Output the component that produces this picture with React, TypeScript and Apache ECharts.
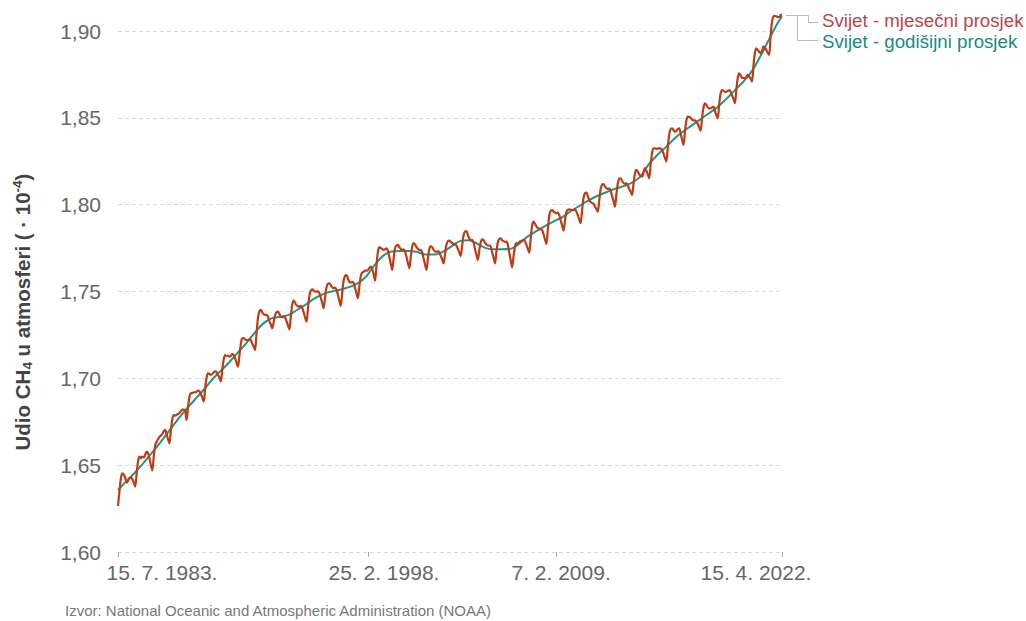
import React, { useEffect, useRef } from "react";
import * as echarts from "echarts";

// Monthly global mean CH4 (ppb), one value per month starting July 1983 (15th of each month)
const FIRST_YEAR = 1983;
const FIRST_MONTH = 7;
const monthlyPpb: number[] = [
  // 1983 (Jul–Dec)
  1626.5, 1635.0, 1642.5, 1645.3, 1644.5, 1642.9,
  // 1984
  1640.0, 1641.0, 1642.5, 1643.0, 1642.0, 1640.0, 1637.6, 1645.0, 1652.3, 1654.9, 1654.0, 1655.0,
  // 1985
  1654.5, 1656.0, 1657.8, 1657.0, 1654.0, 1650.0, 1647.0, 1655.0, 1661.5, 1663.5, 1665.0, 1666.4,
  // 1986
  1667.0, 1668.0, 1669.5, 1670.3, 1668.0, 1665.0, 1662.6, 1670.0, 1676.5, 1678.9, 1678.5, 1679.0,
  // 1987
  1679.5, 1680.0, 1681.0, 1682.0, 1682.0, 1681.5, 1676.0, 1683.0, 1689.5, 1691.4, 1691.5, 1692.0,
  // 1988
  1692.0, 1692.3, 1693.0, 1692.5, 1691.0, 1689.0, 1686.6, 1694.0, 1700.5, 1702.9, 1702.5, 1702.0,
  // 1989
  1702.5, 1703.5, 1704.0, 1703.5, 1702.0, 1700.5, 1698.1, 1705.0, 1711.0, 1713.4, 1713.0, 1713.0,
  // 1990
  1712.5, 1713.0, 1714.0, 1713.5, 1711.5, 1709.0, 1706.7, 1713.0, 1720.0, 1723.0, 1723.1, 1722.5,
  // 1991
  1722.0, 1722.1, 1722.5, 1722.0, 1720.0, 1718.5, 1716.3, 1726.0, 1735.0, 1738.5, 1739.4, 1738.0,
  // 1992
  1737.0, 1736.5, 1736.5, 1735.5, 1733.0, 1731.0, 1728.8, 1732.5, 1736.5, 1738.0, 1738.4, 1737.0,
  // 1993
  1735.5, 1735.2, 1735.5, 1735.0, 1733.0, 1730.5, 1728.2, 1735.5, 1742.5, 1744.7, 1743.5, 1742.0,
  // 1994
  1741.5, 1741.2, 1741.8, 1740.5, 1738.0, 1735.0, 1732.6, 1740.0, 1747.5, 1750.5, 1751.3, 1750.5,
  // 1995
  1750.0, 1749.9, 1750.3, 1749.0, 1746.5, 1743.5, 1740.3, 1746.5, 1752.5, 1754.5, 1754.7, 1753.5,
  // 1996
  1752.5, 1751.8, 1752.3, 1751.0, 1748.0, 1744.5, 1741.7, 1749.5, 1756.5, 1759.0, 1759.5, 1757.5,
  // 1997
  1755.5, 1755.1, 1755.6, 1755.0, 1752.0, 1749.0, 1746.1, 1753.0, 1759.0, 1761.0, 1761.4, 1762.0,
  // 1998
  1762.0, 1762.4, 1763.5, 1764.3, 1763.0, 1760.0, 1756.2, 1765.0, 1773.0, 1775.5, 1775.0, 1774.5,
  // 1999
  1774.0, 1774.3, 1774.8, 1773.5, 1770.0, 1766.0, 1762.4, 1769.0, 1775.0, 1776.5, 1776.8, 1775.5,
  // 2000
  1774.5, 1773.9, 1774.2, 1773.0, 1770.0, 1766.5, 1763.4, 1770.0, 1776.0, 1777.8, 1777.0, 1775.5,
  // 2001
  1774.5, 1773.9, 1774.0, 1772.5, 1769.0, 1765.5, 1762.4, 1769.0, 1774.5, 1776.2, 1775.5, 1774.0,
  // 2002
  1773.0, 1772.9, 1773.2, 1772.5, 1770.5, 1768.5, 1766.2, 1771.5, 1777.0, 1779.0, 1779.3, 1778.5,
  // 2003
  1778.0, 1777.0, 1777.5, 1776.5, 1774.5, 1772.5, 1770.4, 1776.5, 1782.5, 1784.5, 1784.8, 1782.5,
  // 2004
  1780.5, 1779.5, 1779.7, 1778.0, 1774.5, 1771.0, 1768.1, 1774.0, 1778.5, 1780.1, 1779.5, 1778.0,
  // 2005
  1777.0, 1776.5, 1776.5, 1775.8, 1772.5, 1769.5, 1766.2, 1773.0, 1778.5, 1780.3, 1780.6, 1779.5,
  // 2006
  1779.0, 1778.5, 1778.7, 1777.0, 1772.5, 1768.0, 1763.9, 1770.5, 1776.0, 1777.8, 1777.5, 1778.5,
  // 2007
  1779.0, 1779.3, 1779.7, 1779.0, 1777.0, 1774.5, 1772.4, 1780.5, 1788.0, 1790.2, 1789.0, 1787.5,
  // 2008
  1786.5, 1786.0, 1785.8, 1785.4, 1783.0, 1780.0, 1777.4, 1786.0, 1794.0, 1796.5, 1796.9, 1796.0,
  // 2009
  1795.5, 1795.0, 1795.4, 1794.0, 1791.0, 1788.0, 1785.0, 1791.0, 1796.0, 1797.0, 1797.3, 1797.0,
  // 2010
  1797.0, 1796.9, 1797.5, 1796.0, 1794.0, 1791.5, 1789.3, 1797.0, 1804.0, 1806.5, 1806.9, 1805.0,
  // 2011
  1802.5, 1801.5, 1801.0, 1800.5, 1799.0, 1797.5, 1796.0, 1802.5, 1809.0, 1811.5, 1811.9, 1810.5,
  // 2012
  1809.5, 1809.0, 1809.4, 1808.0, 1805.0, 1802.0, 1798.8, 1806.0, 1812.5, 1815.0, 1815.2, 1813.5,
  // 2013
  1812.5, 1812.0, 1812.3, 1811.0, 1809.0, 1807.5, 1805.6, 1812.0, 1818.0, 1820.0, 1819.0, 1817.5,
  // 2014
  1816.5, 1816.1, 1818.5, 1821.0, 1819.5, 1817.5, 1815.2, 1823.0, 1830.0, 1832.5, 1832.5, 1832.0,
  // 2015
  1832.5, 1832.3, 1832.5, 1831.5, 1829.5, 1827.0, 1824.8, 1833.0, 1840.5, 1843.5, 1844.0, 1843.0,
  // 2016
  1842.0, 1842.5, 1843.5, 1844.0, 1841.0, 1837.5, 1834.4, 1842.0, 1848.5, 1850.7, 1850.5, 1850.0,
  // 2017
  1849.0, 1848.5, 1848.5, 1847.8, 1846.5, 1844.5, 1842.5, 1850.0, 1856.0, 1858.4, 1857.5, 1856.0,
  // 2018
  1855.5, 1855.5, 1856.0, 1856.4, 1854.0, 1851.5, 1849.7, 1858.0, 1864.0, 1866.0, 1865.5, 1865.0,
  // 2019
  1865.0, 1865.5, 1866.0, 1865.0, 1863.0, 1861.0, 1858.4, 1866.0, 1873.0, 1875.6, 1874.5, 1873.0,
  // 2020
  1873.0, 1872.7, 1873.5, 1874.7, 1874.0, 1872.5, 1870.9, 1880.0, 1887.5, 1890.0, 1889.0, 1888.0,
  // 2021
  1887.1, 1888.5, 1891.0, 1890.5, 1889.0, 1887.5, 1886.2, 1897.0, 1905.5, 1908.3, 1908.7, 1908.5,
  // 2022 (Jan–Apr)
  1908.0, 1908.0, 1909.2, 1909.5,
];

// Smoothed trend (ppb) at half-year points
const trendDates: string[] = [
  "1983-07-15",
  "1984-01-01", "1984-07-01", "1985-01-01", "1985-07-01", "1986-01-01", "1986-07-01",
  "1987-01-01", "1987-07-01", "1988-01-01", "1988-07-01", "1989-01-01", "1989-07-01",
  "1990-01-01", "1990-07-01", "1991-01-01", "1991-07-01", "1992-01-01", "1992-07-01",
  "1993-01-01", "1993-07-01", "1994-01-01", "1994-07-01", "1995-01-01", "1995-07-01",
  "1996-01-01", "1996-07-01", "1997-01-01", "1997-07-01", "1998-01-01", "1998-07-01",
  "1999-01-01", "1999-07-01", "2000-01-01", "2000-07-01", "2001-01-01", "2001-07-01",
  "2002-01-01", "2002-07-01", "2003-01-01", "2003-07-01", "2004-01-01", "2004-07-01",
  "2005-01-01", "2005-07-01", "2006-01-01", "2006-07-01", "2007-01-01", "2007-07-01",
  "2008-01-01", "2008-07-01", "2009-01-01", "2009-07-01", "2010-01-01", "2010-07-01",
  "2011-01-01", "2011-07-01", "2012-01-01", "2012-07-01", "2013-01-01", "2013-07-01",
  "2014-01-01", "2014-07-01", "2015-01-01", "2015-07-01", "2016-01-01", "2016-07-01",
  "2017-01-01", "2017-07-01", "2018-01-01", "2018-07-01", "2019-01-01", "2019-07-01",
  "2020-01-01", "2020-07-01", "2021-01-01", "2021-07-01", "2022-01-01", "2022-04-15",
];
const trendPpb: number[] = [
  1635.7,
  1640.5, 1645.5, 1651.0, 1657.0, 1663.0, 1669.5,
  1676.0, 1682.0, 1687.5, 1693.0, 1699.0, 1704.0,
  1709.0, 1714.5, 1720.0, 1726.0, 1731.5, 1734.5,
  1735.5, 1736.5, 1739.5, 1742.5, 1746.0, 1748.5,
  1750.0, 1751.0, 1752.5, 1754.5, 1758.5, 1765.0,
  1770.5, 1773.0, 1773.3, 1773.3, 1772.8, 1771.3,
  1771.3, 1773.0, 1776.0, 1779.0, 1779.5, 1777.5,
  1775.0, 1774.3, 1774.3, 1774.7, 1778.0, 1782.0,
  1785.0, 1788.0, 1790.5, 1793.0, 1796.5, 1799.5,
  1802.5, 1805.0, 1807.0, 1809.0, 1810.5, 1812.5,
  1816.0, 1823.0, 1828.5, 1833.0, 1838.0, 1842.0,
  1845.5, 1849.0, 1852.5, 1856.0, 1860.5, 1865.5,
  1870.5, 1876.5, 1885.0, 1894.5, 1904.0, 1908.5,
];

const xTickDates: string[] = ["1983-07-15", "1998-02-25", "2009-02-07", "2022-04-15"];
const xTickLabels: string[] = ["15. 7. 1983.", "25. 2. 1998.", "7. 2. 2009.", "15. 4. 2022."];
const seriesNames: string[] = ["Svijet - mjesečni prosjek", "Svijet - godišijni prosjek"];
const yMin = 1.6;
const yMax = 1.9;
const yStep = 0.05;

const FONT = "'Liberation Sans', Arial, Helvetica, sans-serif";
const RED = "#be3c14";
const TEAL = "#1e978a";

export default function App() {
  const ref = useRef<HTMLDivElement>(null);

  useEffect(() => {
    if (!ref.current) return;
    const chart = echarts.init(ref.current, null, { renderer: "svg" });
    const ts = (s: string) => Date.parse(s + "T00:00:00Z");

    const monthly = monthlyPpb.map((v, i) => {
      const m0 = FIRST_MONTH - 1 + i;
      const y = FIRST_YEAR + Math.floor(m0 / 12);
      const m = m0 % 12;
      return [Date.UTC(y, m, 15), v / 1000];
    });
    const trend = trendPpb.map((v, i) => [ts(trendDates[i]), v / 1000]);
    const tickVals = xTickDates.map(ts);

    const labelPad: number[][] = [
      [0, 0, 0, 88],
      [0, 0, 0, 31],
      [0, 0, 0, 10],
      [0, 52, 0, 0],
    ];
    const rich: Record<string, any> = {};
    labelPad.forEach((p, i) => {
      rich["l" + i] = { padding: p, fontSize: 21, color: "#666", fontFamily: FONT };
    });

    const option: any = {
      animation: false,
      textStyle: { fontFamily: FONT },
      grid: { left: 118, right: 244, top: 31, bottom: 69, containLabel: false },
      xAxis: {
        type: "value",
        min: tickVals[0],
        max: tickVals[tickVals.length - 1],
        axisLine: { show: false },
        splitLine: { show: false },
        axisTick: {
          show: true,
          customValues: tickVals,
          length: 5,
          lineStyle: { color: "#aaa", width: 1 },
        },
        axisLabel: {
          customValues: tickVals,
          margin: 10,
          fontSize: 21,
          color: "#666",
          fontFamily: FONT,
          formatter: (v: number) => {
            let idx = tickVals.findIndex((t) => Math.abs(t - v) < 1000);
            if (idx < 0) idx = 0;
            return "{l" + idx + "|" + xTickLabels[idx] + "}";
          },
          rich,
        },
      },
      yAxis: {
        type: "value",
        min: yMin,
        max: yMax,
        interval: yStep,
        axisLine: { show: false },
        axisTick: { show: false },
        axisLabel: {
          fontSize: 21,
          color: "#666",
          margin: 17,
          fontFamily: FONT,
          formatter: (v: number) => v.toFixed(2).replace(".", ","),
        },
        splitLine: {
          show: true,
          lineStyle: { color: "#d9d9d9", width: 1, type: [4, 3] },
        },
      },
      series: [
        {
          name: seriesNames[1],
          type: "line",
          data: trend,
          smooth: 0.4,
          showSymbol: false,
          symbol: "none",
          clip: false,
          lineStyle: { color: TEAL, width: 2 },
          z: 2,
        },
        {
          name: seriesNames[0],
          type: "line",
          data: monthly,
          smooth: 0.3,
          showSymbol: false,
          symbol: "none",
          clip: false,
          lineStyle: { color: RED, width: 2.2 },
          z: 3,
        },
      ],
      graphic: [
        {
          type: "text",
          x: 22,
          y: 312,
          rotation: Math.PI / 2,
          style: {
            text: "{b|Udio CH}{s|4}{b| u atmosferi ( · 10}{p|-4}{b|)}",
            align: "center",
            verticalAlign: "middle",
            rich: {
              b: { fontSize: 20.5, fontWeight: "bold", fill: "#444", fontFamily: FONT, lineHeight: 24 },
              s: { fontSize: 13.5, fontWeight: "bold", fill: "#444", fontFamily: FONT, lineHeight: 13, verticalAlign: "bottom" },
              p: { fontSize: 13.5, fontWeight: "bold", fill: "#444", fontFamily: FONT, lineHeight: 13, verticalAlign: "top" },
            },
          },
        },
        {
          type: "polyline",
          shape: { points: [[786, 15.5], [808.5, 15.5], [808.5, 22.5], [818, 22.5]] },
          style: { stroke: "#bbb", lineWidth: 1, fill: null },
        },
        {
          type: "polyline",
          shape: { points: [[797.5, 15.5], [797.5, 40.5], [818, 40.5]] },
          style: { stroke: "#bbb", lineWidth: 1, fill: null },
        },
        {
          type: "text",
          x: 822,
          y: 20,
          style: {
            text: seriesNames[0],
            fill: "#b4464f",
            fontSize: 18.7,
            fontFamily: FONT,
            verticalAlign: "middle",
            align: "left",
          },
        },
        {
          type: "text",
          x: 822,
          y: 41,
          style: {
            text: seriesNames[1],
            fill: "#178c7d",
            fontSize: 18.7,
            fontFamily: FONT,
            verticalAlign: "middle",
            align: "left",
          },
        },
        {
          type: "text",
          x: 65,
          y: 610,
          style: {
            text: "Izvor: National Oceanic and Atmospheric Administration (NOAA)",
            fill: "#777",
            fontSize: 15,
            fontFamily: FONT,
            verticalAlign: "middle",
            align: "left",
          },
        },
      ],
    };

    chart.setOption(option);
    return () => {
      chart.dispose();
    };
  }, []);

  return (
    <div
      ref={ref}
      style={{ position: "absolute", left: 0, top: 0, width: 1026, height: 621 }}
    />
  );
}
